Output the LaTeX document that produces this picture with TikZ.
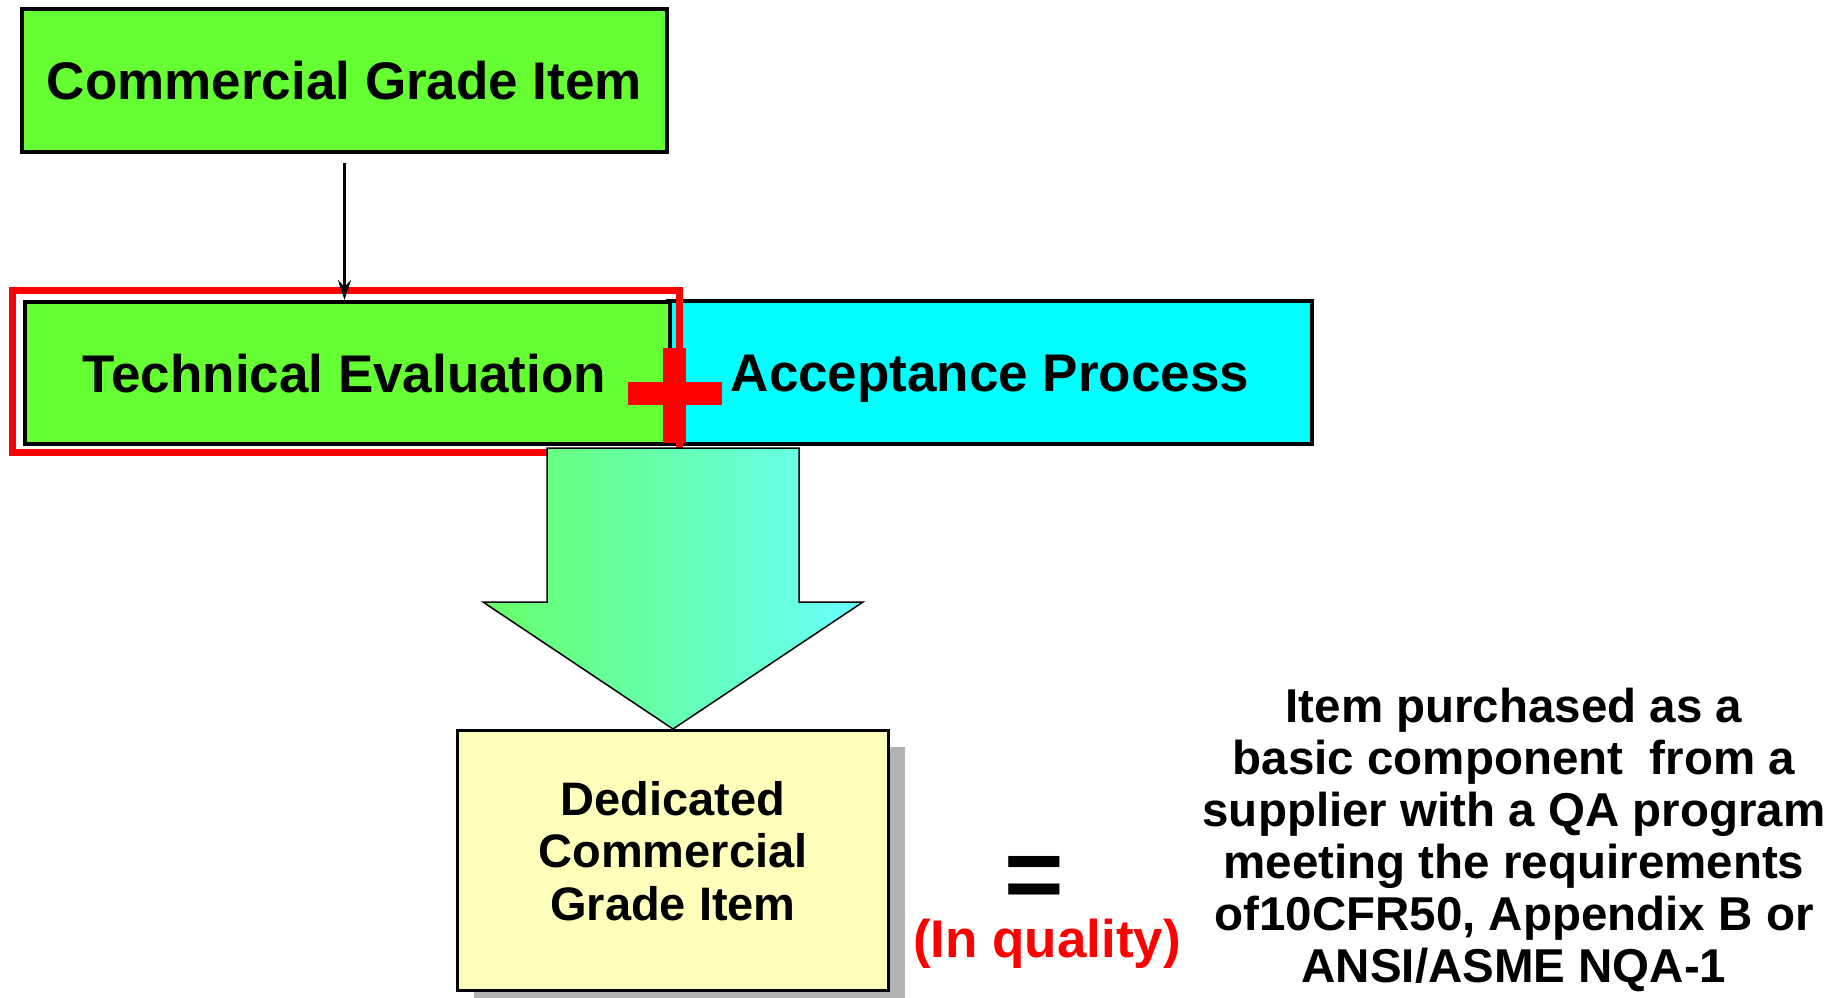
\documentclass[tikz,border=0pt]{standalone}
\usepackage{fontspec}
\setmainfont{Liberation Sans}
\usetikzlibrary{arrows.meta,shadows,calc}
\definecolor{limegreen}{HTML}{66FF33}
\definecolor{aquabox}{HTML}{00FFFF}
\definecolor{paleyellow}{HTML}{FFFFBB}
\definecolor{shaftgreen}{HTML}{66FF66}
\definecolor{shaftcyan}{HTML}{66FFFF}
\definecolor{shadowgray}{HTML}{B2B2B2}
\definecolor{redmark}{HTML}{FF0000}
\begin{document}
\begin{tikzpicture}[x=1pt,y=-1pt,
  bigbox/.style={draw=black, line width=4pt, inner sep=0pt,
    font=\fontsize{53}{60}\selectfont\bfseries, text height=38pt, text depth=0pt},
  bodytext/.style={inner sep=0pt, font=\fontsize{47.5}{52}\selectfont\bfseries},
  thinarrow/.style={line width=3.5pt, -{Stealth[length=20pt,width=13pt,inset=7pt]}},
  redframe/.style={draw=redmark, line width=7pt},
  plusbar/.style={fill=redmark, draw=none},
  blockarrow/.style={draw=black, line width=1.5pt, left color=shaftgreen, right color=shaftcyan}
]
\useasboundingbox (0,0) rectangle (1847,997);

% top box
\node[bigbox, fill=limegreen, minimum width=645pt, minimum height=143pt] (cgi) at (344.5,80.5) {Commercial Grade Item};

% acceptance and technical evaluation
\node[bigbox, fill=aquabox, minimum width=644pt, minimum height=143pt] (ap) at (990,372.5) {Acceptance Process};
\node[bigbox, fill=limegreen, minimum width=645pt, minimum height=142pt] (te) at (347.5,373) {Technical Evaluation\hspace*{6pt}};

% red frame around technical evaluation
\draw[redframe] ($(te.north west)+(-10.5,-9.5)$) rectangle ($(te.south east)+(7.5,6.5)$);

% plus sign
\fill[plusbar] (628,382) rectangle (722,405);
\fill[plusbar] (663,348) rectangle (686,443);

% arrow between top and technical evaluation
\draw[thinarrow] ([yshift=-8.5pt]cgi.south) -- (cgi.south |- te.north);

% dedicated box with shadow
\node[draw=black, line width=3pt, fill=paleyellow, minimum width=431pt, minimum height=260pt,
  inner sep=0pt, drop shadow={shadow xshift=16pt, shadow yshift=-16pt, fill=shadowgray, opacity=1},
  font=\fontsize{47}{52.5}\selectfont\bfseries, text height=34pt, text depth=125pt] (dcg) at (673,860.5)
  {\begin{tabular}[t]{@{}c@{}}Dedicated\\Commercial\\Grade Item\end{tabular}};

% big block arrow
\shade[blockarrow] (547,448) -- (547,602) -- (483,602) -- (dcg.north) -- (863,602) -- (799,602) -- (799,448) -- cycle;

% equals and in quality
\node[inner sep=0pt, anchor=base, font=\fontsize{102}{106}\selectfont\bfseries] (eq) at (1034.5,909) {=};
\node[inner sep=0pt, anchor=base, text=redmark, font=\fontsize{53}{58}\selectfont\bfseries] (inq) at (1047,957) {(In quality)};

% right text
\node[bodytext, anchor=base] (desc) at (1514,722)
  {\begin{tabular}[t]{@{}c@{}}Item purchased as a\\basic component\ \ from a\\supplier with a QA program\\meeting the requirements\\of10CFR50, Appendix B or\\ANSI/ASME NQA-1\end{tabular}};
\end{tikzpicture}
\end{document}
